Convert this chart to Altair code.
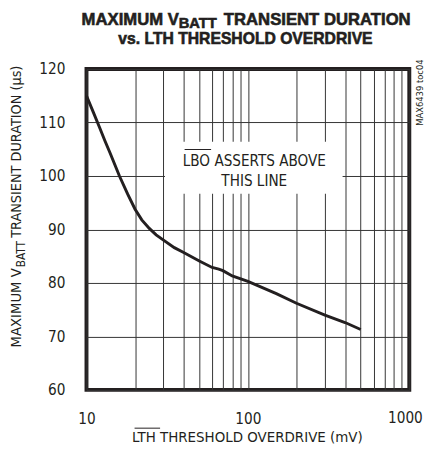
import altair as alt
import pandas as pd

# ---- data ----
overdrive_mv = [10, 11, 12, 13, 14, 16, 18, 20, 22, 24.5, 27, 30, 35, 40, 50, 60, 66, 70, 80, 100, 150, 200, 300, 400, 500]
duration_us = [115, 112.0, 109.2, 106.6, 104.3, 100.0, 96.6, 93.8, 91.8, 90.2, 89.0, 88.0, 86.6, 85.7, 84.1, 82.9, 82.6, 82.3, 81.3, 80.3, 78.0, 76.2, 74.0, 72.6, 71.3]
x_grid = [10, 20, 30, 40, 50, 60, 70, 80, 90, 100, 200, 300, 400, 500, 600, 700, 800, 900, 1000]
x_axis_labels = [10, 100]
x_end_label = "1000"
y_grid = [60, 70, 80, 90, 100, 110, 120]

title_parts = ["MAXIMUM V", "BATT", "TRANSIENT DURATION"]
title_line2 = "vs. LTH THRESHOLD OVERDRIVE"
ytitle_parts = ["MAXIMUM V", "BATT", " TRANSIENT DURATION (µs)"]
xtitle = "LTH THRESHOLD OVERDRIVE (mV)"
note_lines = ["LBO ASSERTS ABOVE", "THIS LINE"]
side_note = "MAX6439 toc04"

FONT = "DejaVu Sans Condensed, Liberation Sans Narrow, sans-serif"
TFONT = "Liberation Sans, Arial, sans-serif"
INK = "#231f20"
LABEL_PAD = 22

curve = pd.DataFrame({"x": overdrive_mv, "y": duration_us})
one = pd.DataFrame({"a": [0]})

xscale = alt.Scale(type="log", domain=[10, 1000], nice=False)
yscale = alt.Scale(domain=[60, 120], nice=False, zero=False)

label_test = " || ".join(f"datum.value == {v}" for v in x_axis_labels)

line = alt.Chart(curve).mark_line(color=INK, strokeWidth=3).encode(
    x=alt.X("x:Q", scale=xscale, axis=alt.Axis(
        values=x_grid, grid=True, ticks=False, tickSize=0, domain=False,
        labelExpr=f"({label_test}) ? format(datum.value, 'd') : ''",
        labelOverlap=False, labelFlush=False, labelPadding=LABEL_PAD, title=None)),
    y=alt.Y("y:Q", scale=yscale, axis=alt.Axis(
        values=y_grid, grid=True, ticks=False, tickSize=0, domain=False,
        labelPadding=22, title=None)),
)

box = alt.Chart(one).mark_rect(color="white").encode(
    x=alt.value(80), x2=alt.value(261), y=alt.value(74), y2=alt.value(127))


def txt(text, x, y, size, font=FONT, align="left", angle=0, weight="normal",
        stroke=None, baseline="alphabetic"):
    kw = dict(text=text, font=font, fontSize=size, align=align, baseline=baseline,
              color=INK, fontWeight=weight)
    if angle:
        kw["angle"] = angle
    if stroke:
        kw["stroke"] = INK
        kw["strokeWidth"] = stroke
    return alt.Chart(one).mark_text(**kw).encode(x=alt.value(x), y=alt.value(y))


def rule(x1, x2, y):
    return alt.Chart(one).mark_rule(color=INK, strokeWidth=1).encode(
        x=alt.value(x1), x2=alt.value(x2), y=alt.value(y))


layers = [
    box, line,
    # end label of the x axis
    txt(x_end_label, 325, 327 + LABEL_PAD, 15.5, align="center", baseline="top"),
    # title
    txt(title_parts[0], -5, -45, 17, TFONT, weight="bold", stroke=0.6),
    txt(title_parts[1], 94, -42, 15, TFONT, weight="bold", stroke=0.6),
    txt(title_parts[2], 140, -45, 17, TFONT, weight="bold", stroke=0.6),
    txt(title_line2, 162, -26, 16, TFONT, align="center", weight="bold", stroke=0.6),
    # y title (rotated)
    txt(ytitle_parts[0], -67, 203, 15, align="right", angle=270),
    txt(ytitle_parts[1], -63, 202, 12, angle=270),
    txt(ytitle_parts[2], -67, 172, 14.6, angle=270),
    # x title
    txt(xtitle, 164, 380, 15.2, align="center"),
    rule(49, 75, 366),
    # annotation
    txt(note_lines[0], 171, 99, 15.4, align="center"),
    txt(note_lines[1], 171, 119, 15.4, align="center"),
    rule(100, 127, 82),
    # side note
    txt(side_note, 343, 24, 9.5, align="center", angle=270),
]

chart = alt.layer(*layers).properties(
    width=329, height=327,
    padding={"left": 80, "top": 58, "right": 16, "bottom": 56},
    autosize=alt.AutoSizeParams(type="none"),
).configure_view(
    stroke=INK, strokeWidth=4
).configure_axis(
    gridColor="#333333", gridWidth=1, gridOpacity=1,
    labelFont=FONT, labelFontSize=15.5, labelColor=INK,
)

chart.save("out.html", embed_options={"renderer": "svg", "actions": False})
